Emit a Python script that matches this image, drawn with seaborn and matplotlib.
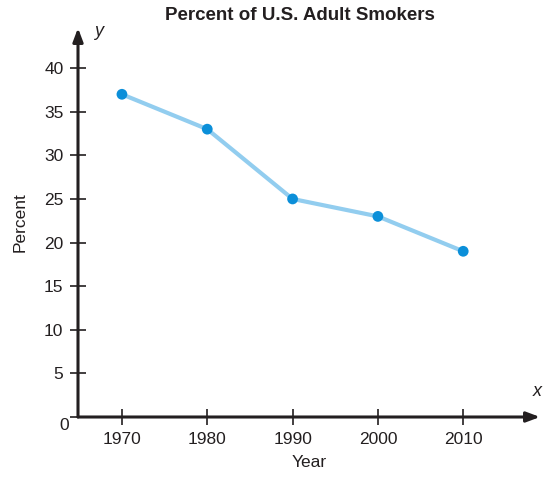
import matplotlib
matplotlib.use("Agg")
import matplotlib.pyplot as plt
from matplotlib import font_manager
import pandas as pd
import seaborn as sns

# dati
years = [1970, 1980, 1990, 2000, 2010]
percent = [37, 33, 25, 23, 19]
y_ticks = [0, 5, 10, 15, 20, 25, 30, 35, 40]
title = "Percent of U.S. Adult Smokers"

df = pd.DataFrame({"Year": years, "Percent": percent})

sns.set_style("white")
names = {f.name for f in font_manager.fontManager.ttflist}
fam = "Liberation Sans Narrow" if "Liberation Sans Narrow" in names else "Liberation Sans"
plt.rcParams["font.family"] = [fam, "DejaVu Sans"]

fig = plt.figure(figsize=(5.43, 4.79), dpi=100)
ax = fig.add_axes([78 / 543, 1 - 417 / 479, 462 / 543, 389 / 479])

sns.lineplot(data=df, x="Year", y="Percent", ax=ax, color="#92cdef", lw=3, zorder=2)
sns.scatterplot(data=df, x="Year", y="Percent", ax=ax, color="#0b8fd9", s=60,
                edgecolor="none", zorder=3)

x0, x1 = 1964.85, 2019.0
y1 = 44.6
ax.set_xlim(x0, x1)
ax.set_ylim(0, y1)
for s in ax.spines.values():
    s.set_visible(False)

# assi con frecce
arrow = dict(arrowstyle="-|>,head_length=0.8,head_width=0.3", color="#231f20", lw=2.2,
             shrinkA=0, shrinkB=0)
ax.annotate("", xy=(x1, 0), xytext=(x0, 0), annotation_clip=False, arrowprops=arrow)
ax.annotate("", xy=(x0, y1), xytext=(x0, 0), annotation_clip=False, arrowprops=arrow)

ax.set_xticks(years)
ax.set_yticks(y_ticks)
ax.set_yticklabels([str(t) if t else "" for t in y_ticks])
ax.tick_params(axis="both", direction="inout", length=11, width=1.2, color="#231f20",
               labelsize=12.5, labelcolor="#231f20", left=True, bottom=True)
ax.tick_params(axis="x", pad=5)
ax.tick_params(axis="y", pad=5)
ax.text(-0.02, -0.003, "0", transform=ax.transAxes, ha="right", va="top", fontsize=12.5,
        color="#231f20")

ax.set_xlabel("Year", fontsize=12.5, color="#231f20", labelpad=6)
ax.set_ylabel("Percent", fontsize=12.5, color="#231f20", labelpad=12)
ax.text(0.035, 0.98, "y", transform=ax.transAxes, fontsize=13, style="italic", color="#231f20")
fig.text(0.998, 1 - 392 / 479, "x", ha="right", va="center", fontsize=13, style="italic",
         color="#231f20")

fig.text(300 / 543, 1 - 15 / 479, title, ha="center", va="center", fontsize=13.5,
         fontweight="bold", color="#231f20")

fig.savefig("out.png", dpi=100)
